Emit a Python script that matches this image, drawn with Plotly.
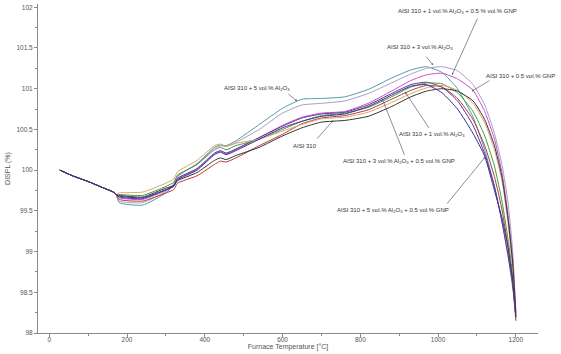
import plotly.graph_objects as go

T = [27, 60, 100, 140, 165, 172, 180, 240, 300, 320, 330, 380, 425, 440, 455, 480, 540, 600,
     650, 700, 760, 820, 880, 930, 970, 1010, 1050, 1090, 1120, 1145, 1165, 1180, 1192, 1200]

head = [100.0, 99.93, 99.86, 99.78, 99.73, 99.70]

teal = head + [99.60, 99.57, 99.72, 99.82, 99.92, 100.08, 100.28, 100.31, 100.30, 100.36, 100.56, 100.76,
               100.87, 100.88, 100.90, 100.99, 101.13, 101.23, 101.27, 101.20, 101.00, 100.65, 100.25, 99.80, 99.35, 98.95, 98.55, 98.22]
lavender = head + [99.62, 99.60, 99.74, 99.83, 99.93, 100.07, 100.27, 100.30, 100.29, 100.34, 100.50, 100.70,
                   100.80, 100.82, 100.85, 100.94, 101.07, 101.18, 101.25, 101.27, 101.22, 101.05, 100.80, 100.45, 100.05, 99.60, 99.00, 98.25]
magenta = head + [99.66, 99.64, 99.75, 99.80, 99.89, 100.01, 100.20, 100.23, 100.20, 100.25, 100.40, 100.55,
                  100.65, 100.70, 100.72, 100.82, 100.97, 101.10, 101.17, 101.19, 101.12, 100.98, 100.72, 100.38, 99.95, 99.45, 98.90, 98.20]
violet = head + [99.67, 99.65, 99.76, 99.81, 99.90, 100.02, 100.21, 100.24, 100.21, 100.26, 100.40, 100.54,
                 100.64, 100.69, 100.71, 100.80, 100.94, 101.05, 101.08, 101.02, 100.85, 100.55, 100.20, 99.80, 99.35, 98.95, 98.60, 98.20]
green = head + [99.70, 99.69, 99.80, 99.85, 99.94, 100.07, 100.25, 100.28, 100.25, 100.30, 100.38, 100.50,
                100.60, 100.67, 100.70, 100.77, 100.90, 101.02, 101.07, 101.06, 100.95, 100.72, 100.42, 100.05, 99.60, 99.15, 98.70, 98.18]
red = head + [99.64, 99.62, 99.72, 99.76, 99.84, 99.93, 100.07, 100.11, 100.10, 100.15, 100.30, 100.44,
              100.57, 100.64, 100.67, 100.74, 100.87, 100.98, 101.04, 101.02, 100.88, 100.62, 100.30, 99.92, 99.50, 99.05, 98.60, 98.15]
orange = head + [99.72, 99.73, 99.84, 99.89, 99.98, 100.12, 100.30, 100.32, 100.29, 100.33, 100.38, 100.48,
                 100.56, 100.63, 100.65, 100.71, 100.83, 100.94, 101.01, 101.04, 100.98, 100.82, 100.58, 100.25, 99.85, 99.35, 98.80, 98.22]
black = head + [99.69, 99.67, 99.78, 99.81, 99.87, 99.97, 100.12, 100.15, 100.13, 100.18, 100.28, 100.42,
                100.52, 100.59, 100.61, 100.66, 100.78, 100.90, 100.97, 101.00, 100.97, 100.85, 100.62, 100.30, 99.90, 99.40, 98.85, 98.25]
navy = head + [99.68, 99.66, 99.76, 99.80, 99.88, 100.00, 100.19, 100.22, 100.19, 100.24, 100.38, 100.52,
               100.60, 100.66, 100.69, 100.78, 100.92, 101.03, 101.05, 100.95, 100.75, 100.45, 100.17, 99.75, 99.40, 99.05, 98.65, 98.20]

series = [
    ("AISI 310 + 5 vol.% Al2O3", teal, "#4a9fa5"),
    ("AISI 310 + 3 vol.% Al2O3", lavender, "#a99cc8"),
    ("AISI 310 + 1 vol.% Al2O3 + 0.5 % vol.% GNP", magenta, "#c94fc9"),
    ("AISI 310 + 3 vol.% Al2O3 + 0.5 vol.% GNP", violet, "#6a2aa0"),
    ("AISI 310 + 1 vol.% Al2O3", green, "#3e9e45"),
    ("AISI 310 (run 2)", red, "#b23a3a"),
    ("AISI 310 + 0.5 vol.% GNP", orange, "#e0a36a"),
    ("AISI 310", black, "#333333"),
    ("AISI 310 + 5 vol.% Al2O3 + 0.5 vol.% GNP", navy, "#303590"),
]

AL = "Al<sub>2</sub>O<sub>3</sub>"
# label text, text center (T, v), arrow tail (T, v), arrow head (T, v)
labels = [
    (f"AISI 310 + 5 vol.% {AL}", 534, 101.00, 611, 100.95, 637, 100.85),
    ("AISI 310", 658, 100.30, 686, 100.37, 730, 100.61),
    (f"AISI 310 + 3 vol.% {AL}", 954, 101.51, 967, 101.41, 987, 101.29),
    (f"AISI 310 + 1 vol.% {AL} + 0.5 % vol.% GNP", 1049, 101.95, 1103, 101.88, 1036, 101.17),
    (f"AISI 310 + 1 vol.% {AL}", 984, 100.44, 979, 100.50, 915, 100.96),
    (f"AISI 310 + 3 vol.% {AL} + 0.5 vol.% GNP", 900, 100.10, 915, 100.17, 856, 100.88),
    (f"AISI 310 + 5 vol.% {AL} + 0.5 vol.% GNP", 885, 99.51, 1020, 99.57, 1121, 100.16),
]
# label near the right edge, anchored to the paper
gnp_label = ("AISI 310 + 0.5 vol.% GNP", 1.038, 101.16, 1136, 101.11, 1087, 100.97)

font_lbl = dict(size=6, color="#333333", family="Liberation Sans")

fig = go.Figure()
for name, vals, col in series:
    fig.add_trace(go.Scatter(x=T, y=vals, mode="lines", name=name,
                             line=dict(color=col, width=1, shape="spline", smoothing=0.5),
                             showlegend=False))

for text, tx, ty, ax, ay, hx, hy in labels:
    fig.add_annotation(x=tx, y=ty, text=text, showarrow=False, font=font_lbl)
    fig.add_annotation(x=hx, y=hy, ax=ax, ay=ay, axref="x", ayref="y", text="",
                       showarrow=True, arrowhead=2, arrowsize=0.6, arrowwidth=0.6,
                       arrowcolor="#444444")

text, px, ty, ax, ay, hx, hy = gnp_label
fig.add_annotation(x=px, xref="paper", xanchor="right", y=ty, text=text,
                   showarrow=False, font=font_lbl)
fig.add_annotation(x=hx, y=hy, ax=ax, ay=ay, axref="x", ayref="y", text="",
                   showarrow=True, arrowhead=2, arrowsize=0.6, arrowwidth=0.6,
                   arrowcolor="#444444")

axis_common = dict(showline=True, linecolor="#8a8a8a", linewidth=1, ticks="outside",
                   ticklen=3, tickcolor="#8a8a8a", showgrid=False, zeroline=False,
                   tickfont=dict(size=6.5, color="#555555", family="Liberation Sans"))

fig.update_xaxes(range=[-29, 1257], dtick=200, tick0=0, ticklabelstandoff=-3,
                 minor=dict(dtick=100, ticks="outside", ticklen=2, tickcolor="#8a8a8a"),
                 title=dict(text="Furnace Temperature [°C]", standoff=0,
                            font=dict(size=7, color="#555555", family="Liberation Sans")),
                 **axis_common)
fig.update_yaxes(range=[98, 102.04], dtick=0.5, tick0=98,
                 minor=dict(dtick=0.25, ticks="outside", ticklen=2, tickcolor="#8a8a8a"),
                 title=dict(text="DISPL (%)", standoff=4,
                            font=dict(size=7, color="#555555", family="Liberation Sans")),
                 **axis_common)

fig.update_layout(width=561, height=354, margin=dict(l=38, r=23, t=4, b=21),
                  plot_bgcolor="white", paper_bgcolor="white")

fig.write_html("out.html", config={"displayModeBar": False},
               post_script="document.body.style.margin='0';")
